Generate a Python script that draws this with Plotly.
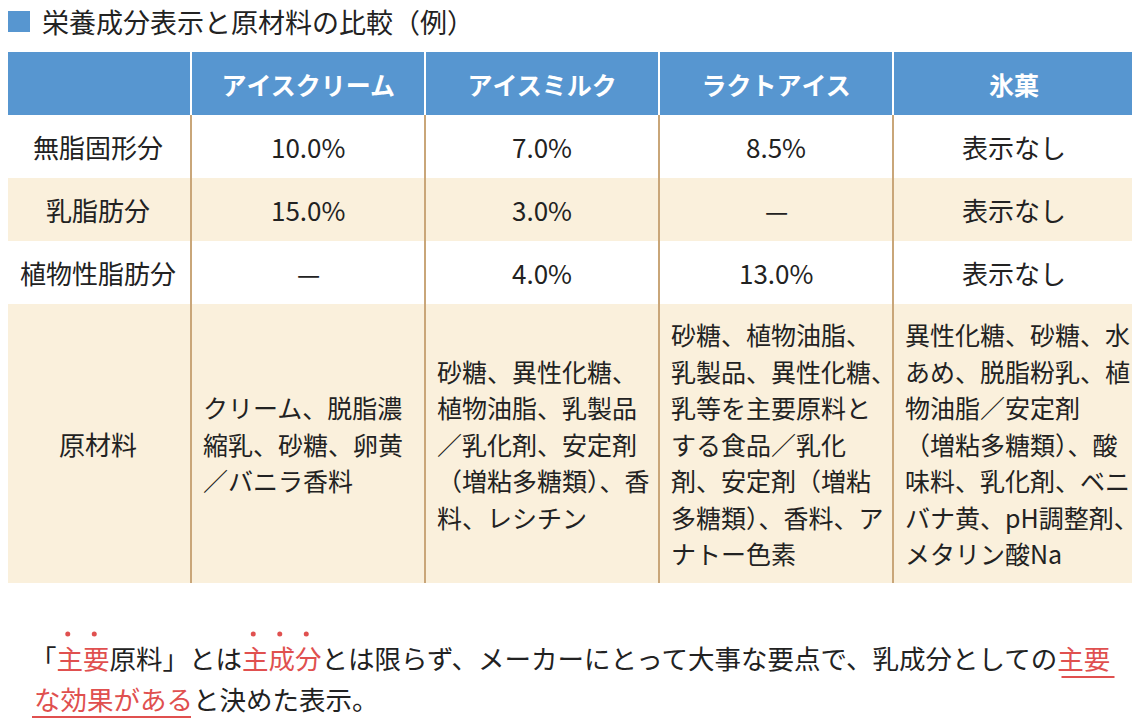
import plotly.graph_objects as go

FONT = "Noto Sans CJK JP"
title = "栄養成分表示と原材料の比較（例）"
columns = ["アイスクリーム", "アイスミルク", "ラクトアイス", "氷菓"]
row_labels = ["無脂固形分", "乳脂肪分", "植物性脂肪分", "原材料"]
nonfat_solids = ["10.0%", "7.0%", "8.5%", "表示なし"]
milk_fat = ["15.0%", "3.0%", "—", "表示なし"]
veg_fat = ["—", "4.0%", "13.0%", "表示なし"]
ingredients = [
    ["クリーム、脱脂濃", "縮乳、砂糖、卵黄", "／バニラ香料"],
    ["砂糖、異性化糖、", "植物油脂、乳製品", "／乳化剤、安定剤", "（増粘多糖類）、香", "料、レシチン"],
    ["砂糖、植物油脂、", "乳製品、異性化糖、", "乳等を主要原料と", "する食品／乳化", "剤、安定剤（増粘", "多糖類）、香料、ア", "ナトー色素"],
    ["異性化糖、砂糖、水", "あめ、脱脂粉乳、植", "物油脂／安定剤", "（増粘多糖類）、酸", "味料、乳化剤、ベニ", "バナ黄、pH調整剤、", "メタリン酸Na"],
]
note_head = "※乳等を主要原料とする食品とは"

HEADER = "#5796d0"
BEIGE = "#faf0dc"
SEP = "#c9a679"
RED = "#e0504f"
TXT = "#222222"

xs = [5, 191, 425, 659, 893, 1135]
ys = [52, 115, 178, 241, 304, 583]

fig = go.Figure()
shapes = []
ann = []

def A(x, y, text, size=26, color=TXT, xanchor="center"):
    ann.append(dict(x=x, y=y, text=text, showarrow=False, xanchor=xanchor, yanchor="middle",
                    font=dict(family=FONT, size=size, color=color)))

# title
shapes.append(dict(type="rect", x0=8, x1=30, y0=11, y1=32, fillcolor=HEADER, line_width=0))
A(40, 21, title, size=27, xanchor="left")

# header
shapes.append(dict(type="rect", x0=xs[0], x1=xs[-1], y0=ys[0], y1=ys[1], fillcolor=HEADER, line_width=0))
for i, c in enumerate(columns):
    A((xs[i+1]+xs[i+2])/2, (ys[0]+ys[1])/2, "<b>"+c+"</b>", size=25, color="white")
for r in range(4):
    fill = "white" if r % 2 == 0 else BEIGE
    shapes.append(dict(type="rect", x0=xs[0], x1=xs[-1], y0=ys[r+1], y1=ys[r+2], fillcolor=fill, line_width=0))
    A((xs[0]+xs[1])/2, (ys[r+1]+ys[r+2])/2, row_labels[r])
for i in range(1, 5):
    shapes.append(dict(type="line", x0=xs[i], x1=xs[i], y0=ys[0], y1=ys[1], line=dict(color="white", width=2)))
    shapes.append(dict(type="line", x0=xs[i], x1=xs[i], y0=ys[1], y1=ys[-1], line=dict(color=SEP, width=2)))
for r, vals in enumerate([nonfat_solids, milk_fat, veg_fat]):
    for i, v in enumerate(vals):
        A((xs[i+1]+xs[i+2])/2, (ys[r+1]+ys[r+2])/2, v)
for i, lines in enumerate(ingredients):
    n = len(lines)
    cy = (ys[4]+ys[5])/2
    for k, l in enumerate(lines):
        A(xs[i+1]+10, cy + (k-(n-1)/2)*36.5, l, size=25, xanchor="left")

# footnote
A(6, 612, note_head, size=26, color=RED, xanchor="left")
r = lambda s: f"<span style='color:{RED}'>{s}</span>"
line2 = "「" + r("主要") + "原料」とは" + r("主成分") + "とは限らず、メーカーにとって大事な要点で、乳成分としての" + r("主要")
line3 = r("な効果がある") + "と決めた表示。"
CW = 26.5
X0 = 28
A(X0, 657, line2, size=CW, xanchor="left")
A(32, 698, line3, size=CW, xanchor="left")
shapes.append(dict(type="line", x0=X0+39*CW, x1=X0+41*CW, y0=677, y1=677, line=dict(color=RED, width=2)))
shapes.append(dict(type="line", x0=32, x1=32+6*CW, y0=717, y1=717, line=dict(color=RED, width=2)))
dot_idx = [1, 2, 8, 9, 10]
dots_x = [X0 + (k+0.5)*CW for k in dot_idx]
fig.add_trace(go.Scatter(x=dots_x, y=[634]*len(dots_x), mode="markers",
                         marker=dict(color=RED, size=5), hoverinfo="skip"))

# page body has an 8px margin; offset the ranges so coordinates match window pixels
fig.update_layout(width=1140, height=721, margin=dict(l=0, r=0, t=0, b=0),
                  plot_bgcolor="white", paper_bgcolor="white", showlegend=False,
                  shapes=shapes, annotations=ann,
                  xaxis=dict(range=[8, 1148], visible=False, fixedrange=True),
                  yaxis=dict(range=[729, 8], visible=False, fixedrange=True))
fig.write_html("out.html")
